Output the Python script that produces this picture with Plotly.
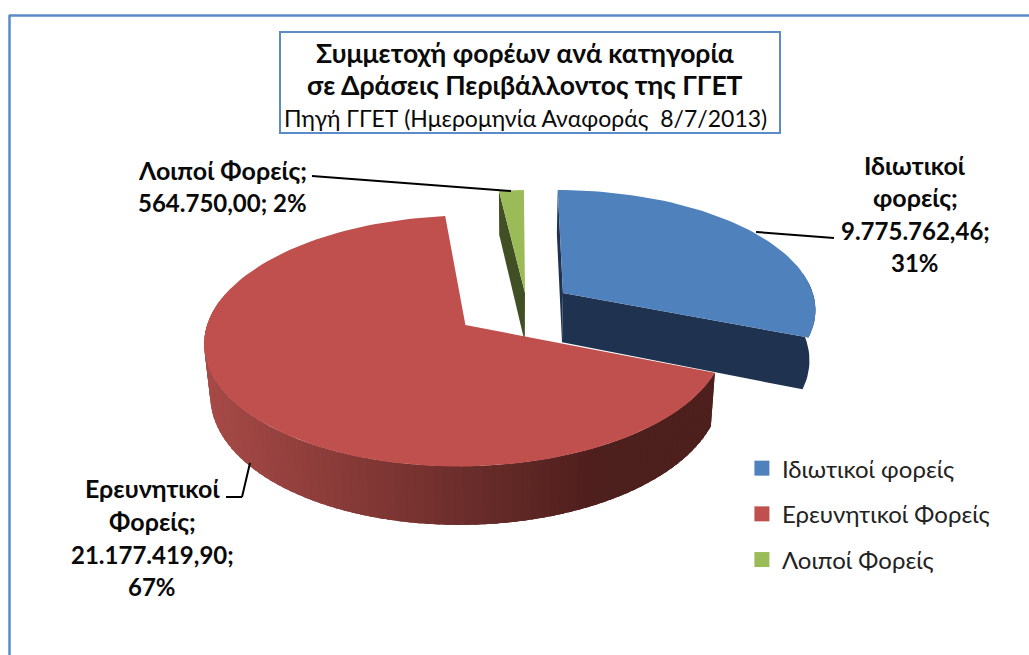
import math
import plotly.graph_objects as go

# ---- data ----
categories = ["Ιδιωτικοί φορείς", "Ερευνητικοί Φορείς", "Λοιποί Φορείς"]
values = [9775762.46, 21177419.90, 564750.00]
label_names = [["Ιδιωτικοί", "φορείς;"], ["Ερευνητικοί", "Φορείς;"], ["Λοιποί Φορείς;"]]
title_lines = ["Συμμετοχή φορέων ανά κατηγορία", "σε Δράσεις Περιβάλλοντος της ΓΓΕΤ"]
subtitle = "Πηγή ΓΓΕΤ (Ημερομηνία Αναφοράς  8/7/2013)"
top_colors = ["#4F81BD", "#C0504D", "#9BBB59"]
wall_colors = ["#1F3350", "#4D1F1D", "#414F25"]

# ---- projection of the tilted pie ----
FONT = "Lato, 'Noto Sans', sans-serif"
CX, CY = 515, 305
RX, RY, P = 253, 118.5, 0.1245
DEPTH = 50
BOTTOM_X = 0.98
explode = [(0.192, 0.103), (-0.192, -0.165), (0.04, 0.103)]

total = sum(values)
bounds = [0]
for v in values:
    bounds.append(bounds[-1] + v / total * 360)


def project(wx, wy, bottom=False):
    w = 1 + P * wy
    x = RX * wx / w
    y = -RY * wy / w
    if bottom:
        x *= BOTTOM_X
        y += DEPTH / w
    return CX + x, CY + y


def rim(i, deg, bottom=False):
    a = math.radians(deg)
    ex, ey = explode[i]
    return project(ex + math.sin(a), ey + math.cos(a), bottom)


def vertex(i, bottom=False):
    ex, ey = explode[i]
    return project(ex, ey, bottom)


def steps(a, b, n):
    return [a + (b - a) * k / n for k in range(n + 1)]


def poly(points, color, line=0):
    return go.Scatter(
        x=[p[0] for p in points], y=[p[1] for p in points],
        mode="lines", fill="toself", fillcolor=color,
        line=dict(color=color, width=line), hoverinfo="skip", showlegend=False,
    )


def mix(c1, c2, t):
    return "rgb(%d,%d,%d)" % tuple(c1[k] + (c2[k] - c1[k]) * t for k in range(3))


traces = []

# green slice (index 2)
a0, a1 = bounds[2], bounds[3]
traces.append(poly([rim(2, a0), rim(2, a0, True), vertex(2, True), vertex(2)], wall_colors[2]))
traces.append(poly([vertex(2)] + [rim(2, d) for d in steps(a0, a1, 6)], top_colors[2]))

# blue slice (index 0)
a0, a1 = bounds[0], bounds[1]
traces.append(poly([rim(0, a0), rim(0, a0, True), vertex(0, True), vertex(0)], wall_colors[0]))
front = steps(80, a1, 16)
traces.append(poly([vertex(0), vertex(0, True)] + [rim(0, a1, True)]
                   + [rim(0, d, True) for d in reversed(front)]
                   + [rim(0, d) for d in front], wall_colors[0]))
traces.append(poly([vertex(0)] + [rim(0, d) for d in steps(a0, a1, 60)], top_colors[0]))

# red slice (index 1): outer wall shaded strip by strip, each overlapping the next
a0, a1 = bounds[1], bounds[2]
dark, light = (77, 31, 29), (166, 74, 71)
wall_end = 285
n = 90
edges = steps(a0, wall_end, n)
xs = [rim(1, d)[0] for d in edges]
for k in reversed(range(n)):
    d0 = edges[k]
    d_far = edges[k + 1]
    xm = (xs[k] + xs[k + 1]) / 2
    t = min(1, max(0, (600 - xm) / (600 - 210)))
    arc = steps(max(a0, d0 - 3), d_far, 4)
    traces.append(poly([rim(1, d) for d in arc] + [rim(1, d, True) for d in reversed(arc)],
                       mix(dark, light, t)))
traces.append(poly([vertex(1)] + [rim(1, d) for d in steps(a0, a1, 120)], top_colors[1]))

# legend entries
for name, col in zip(categories, top_colors):
    traces.append(go.Scatter(
        x=[None], y=[None], mode="markers", name=name, legendgroup=name,
        marker=dict(symbol="square", size=15, color=col),
    ))

fig = go.Figure(traces)


def fmt(v):
    return f"{v:,.2f}".replace(",", "#").replace(".", ",").replace("#", ".")


def pct(v):
    return f"{round(v / total * 100)}%"


def text(x, y, s, size=25, bold=True):
    fig.add_annotation(
        x=x, y=y, text=f"<b>{s}</b>" if bold else s, showarrow=False,
        xanchor="center", yanchor="middle",
        font=dict(family=FONT, size=size, color="#0A0A0A"),
    )


# title box
for s, y in zip(title_lines, [53, 85]):
    text(525, y, s, size=26.5)
text(525, 118, subtitle, size=23, bold=False)

# data labels
for s, y in zip(label_names[0], [165, 197]):
    text(915, y, s)
text(915, 230, fmt(values[0]) + ";", size=24)
text(915, 262, pct(values[0]), size=24)
for s, y in zip(label_names[1], [488, 521]):
    text(152, y, s)
text(152, 554, fmt(values[1]) + ";", size=24)
text(152, 586, pct(values[1]), size=24)
text(222, 170, label_names[2][0])
text(222, 202, fmt(values[2]) + "; " + pct(values[2]), size=24)

BLUE_EDGE = "#5B8BC9"
shapes = [
    dict(type="line", x0=9, y0=15.5, x1=1029, y1=15.5, line=dict(color=BLUE_EDGE, width=2.5)),
    dict(type="line", x0=9.5, y0=15, x1=9.5, y1=655, line=dict(color=BLUE_EDGE, width=2.5)),
    dict(type="rect", x0=280, y0=32, x1=780, y1=133, line=dict(color=BLUE_EDGE, width=2), fillcolor="white"),
    dict(type="line", x0=312, y0=176, x1=511, y1=191, line=dict(color="#000000", width=2)),
    dict(type="line", x0=756, y0=232, x1=834, y1=238, line=dict(color="#000000", width=2)),
    dict(type="line", x0=226, y0=497, x1=242, y1=497, line=dict(color="#000000", width=2)),
    dict(type="line", x0=242, y0=497, x1=250, y1=463, line=dict(color="#000000", width=2)),
]

fig.update_layout(
    width=1029, height=655, margin=dict(l=0, r=0, t=0, b=0),
    paper_bgcolor="white", plot_bgcolor="white", shapes=shapes,
    xaxis=dict(range=[0, 1029], visible=False, fixedrange=True),
    yaxis=dict(range=[655, 0], visible=False, fixedrange=True),
    showlegend=True,
    legend=dict(x=0.721, y=0.319, xanchor="left", yanchor="top", tracegroupgap=11.5,
                bgcolor="rgba(0,0,0,0)", font=dict(family=FONT, size=24, color="#222222")),
)
fig.write_html("out.html", config={"displayModeBar": False},
               post_script="document.body.style.margin='0';document.body.style.overflow='hidden';")
